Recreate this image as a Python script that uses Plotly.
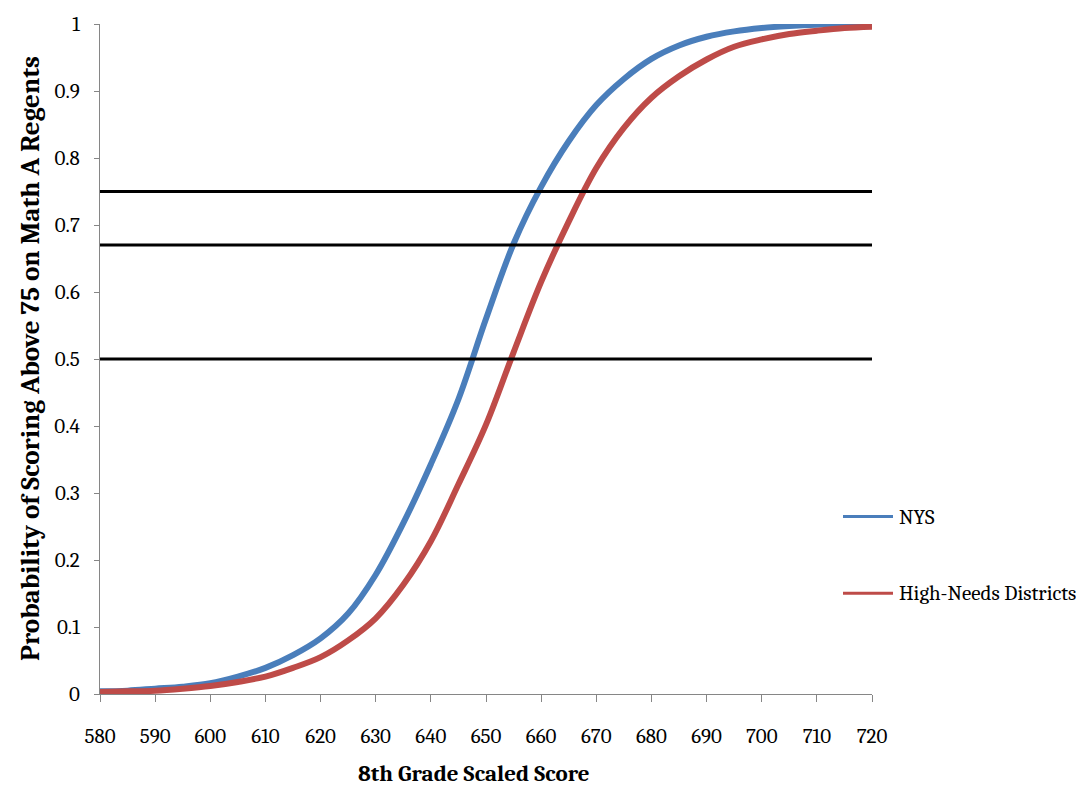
import plotly.graph_objects as go

# 8th grade scaled score (x) and probability of scoring above 75 on Math A Regents
scores = [580, 585, 590, 595, 600, 605, 610, 615, 620, 625, 630, 635, 640, 645,
          650, 655, 660, 665, 670, 675, 680, 685, 690, 695, 700, 705, 710, 715, 720]

nys = [0.004, 0.005, 0.008, 0.011, 0.016, 0.026, 0.039, 0.058, 0.083, 0.120,
       0.178, 0.255, 0.343, 0.440, 0.560, 0.672, 0.757, 0.825, 0.879, 0.918,
       0.948, 0.968, 0.981, 0.989, 0.994, 0.997, 0.999, 1.0, 1.0]

high_needs = [0.003, 0.004, 0.005, 0.008, 0.012, 0.018, 0.026, 0.039, 0.055, 0.080,
              0.113, 0.163, 0.228, 0.313, 0.402, 0.510, 0.615, 0.705, 0.785, 0.845,
              0.890, 0.922, 0.947, 0.966, 0.977, 0.985, 0.990, 0.994, 0.996]

thresholds = [0.5, 0.67, 0.75]

series_names = ["NYS", "High-Needs Districts"]
series_colors = ["#4A7EBB", "#BE4B48"]

x_ticks = list(range(580, 721, 10))
y_ticks = [round(i * 0.1, 1) for i in range(11)]
y_tick_text = ["0", "0.1", "0.2", "0.3", "0.4", "0.5", "0.6", "0.7", "0.8", "0.9", "1"]

FONT = "Cambria, 'Liberation Serif', 'DejaVu Serif', serif"

fig = go.Figure()

for name, ys, color in zip(series_names, [nys, high_needs], series_colors):
    fig.add_trace(go.Scatter(
        x=scores, y=ys, name=name, mode="lines",
        line=dict(color=color, width=6, shape="spline", smoothing=1.0),
        showlegend=False,
    ))

for t in thresholds:
    fig.add_trace(go.Scatter(
        x=[scores[0], scores[-1]], y=[t, t], mode="lines",
        line=dict(color="black", width=3), showlegend=False, hoverinfo="skip",
    ))

L, R, T, B = 100, 204, 22, 95
W, H = 1076, 789
pw = W - L - R
ph = H - T - B

# legend drawn as short line samples with labels to the right of the plot
legend_rows = [516, 593]
shapes = []
annotations = []
for name, color, row in zip(series_names, series_colors, legend_rows):
    yp = (H - B - row) / ph
    x0 = (843 - L) / pw
    x1 = (893 - L) / pw
    shapes.append(dict(type="line", xref="paper", yref="paper",
                       x0=x0, x1=x1, y0=yp, y1=yp,
                       line=dict(color=color, width=3)))
    annotations.append(dict(xref="paper", yref="paper", x=(897 - L) / pw, y=yp,
                            text=name, showarrow=False, xanchor="left",
                            yanchor="middle",
                            font=dict(family=FONT, size=21, color="black")))

# axis titles
annotations.append(dict(xref="paper", yref="paper", x=(30 - L) / pw, y=0.5,
                        text="<b>Probability of Scoring Above 75 on Math A Regents</b>",
                        textangle=-90, showarrow=False, xanchor="center",
                        yanchor="middle",
                        font=dict(family=FONT, size=27, color="black")))
annotations.append(dict(xref="paper", yref="paper", x=(474 - L) / pw,
                        y=(H - B - 774) / ph,
                        text="<b>8th Grade Scaled Score</b>", showarrow=False,
                        xanchor="center", yanchor="middle",
                        font=dict(family=FONT, size=23, color="black")))

fig.update_layout(
    width=W, height=H,
    margin=dict(l=L, r=R, t=T, b=B, pad=0),
    paper_bgcolor="white", plot_bgcolor="white",
    font=dict(family=FONT, size=21, color="black"),
    shapes=shapes, annotations=annotations,
    showlegend=False,
)

fig.update_xaxes(
    range=[580, 720], tickmode="array", tickvals=x_ticks,
    ticks="outside", ticklen=7, tickcolor="#868686", tickwidth=1,
    showline=True, linecolor="#868686", linewidth=1,
    showgrid=False, zeroline=False, ticklabelstandoff=16,
    tickfont=dict(family=FONT, size=21, color="black"),
)
fig.update_yaxes(
    range=[0, 1], tickmode="array", tickvals=y_ticks, ticktext=y_tick_text,
    ticks="outside", ticklen=5, tickcolor="#868686", tickwidth=1,
    showline=True, linecolor="#868686", linewidth=1,
    showgrid=False, zeroline=False, ticklabelstandoff=10,
    tickfont=dict(family=FONT, size=21, color="black"),
)

fig.write_html("out.html")
